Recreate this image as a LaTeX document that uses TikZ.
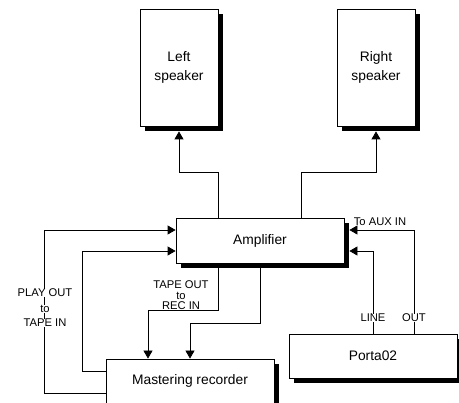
\documentclass[tikz,border=0pt]{standalone}
\usepackage{fontspec}
\setmainfont{Liberation Sans}
\usetikzlibrary{arrows.meta,shadows}

\begin{document}
\begin{tikzpicture}[x=1pt,y=-1pt,line width=0.8pt,
  every node/.style={font=\fontsize{13.8}{19}\selectfont},
  box/.style={draw,fill=white,align=center,minimum width=168pt,
    drop shadow={shadow xshift=5pt,shadow yshift=-5pt,fill=black,opacity=1}},
  spk/.style={box,minimum width=78pt,minimum height=117pt},
  lbl/.style={font=\fontsize{11.2}{10.5}\selectfont,align=center,inner sep=0.5pt},
  arr/.style={-{Triangle[length=8pt,width=9pt]}}]
\useasboundingbox (0,0) rectangle (459,403);
\node[spk] (lspk) at (179,67.5) {Left\\speaker};
\node[spk] (rspk) at (376,67.5) {Right\\speaker};
\node[box,minimum height=45pt] (amp) at (260,240.5) {Amplifier};
\node[box,minimum height=60pt,text depth=18pt] (rec) at (190,389) {Mastering recorder};
\node[box,minimum height=44pt] (porta) at (373,356) {Porta02};
\draw[arr] ([xshift=-42pt]amp.north) -- ++(0,-45) -| ([yshift=-5pt]lspk.south);
\draw[arr] ([xshift=41pt]amp.north) -- ++(0,-45) -| ([yshift=-5pt]rspk.south);
\draw[arr] ([yshift=-4pt]rec.west) -- ++(-61,0) |- ([yshift=10.5pt]amp.west);
\draw[arr] ([yshift=18pt]rec.west) -- ++(-23,0) |- ([yshift=-10.5pt]amp.west);
\draw[arr] ([xshift=-42pt]amp.south) -- ++(0,47) -| ([xshift=-42pt]rec.north);
\draw[arr] (amp.south) -- ++(0,60) -| (rec.north);
\draw[arr] ([xshift=41pt]porta.north) |- ([xshift=5pt,yshift=10.5pt]amp.east);
\draw[arr] (porta.north) |- ([xshift=5pt,yshift=-10.5pt]amp.east);
\node[lbl] (aux) at (380,222) {To AUX IN};
\node[lbl,fill=white] (line) at (373,318) {LINE};
\node[lbl,fill=white] (out) at (414,318) {OUT};
\node[lbl] (tapeout) at (181,295.5) {TAPE OUT\\to\\REC IN};
\node[lbl,fill=white] (playout) at (45,293) {PLAY OUT};
\node[lbl,fill=white] (playto) at (45,309) {to};
\node[lbl,fill=white] (tapein) at (45,323) {TAPE IN};
\end{tikzpicture}
\end{document}
